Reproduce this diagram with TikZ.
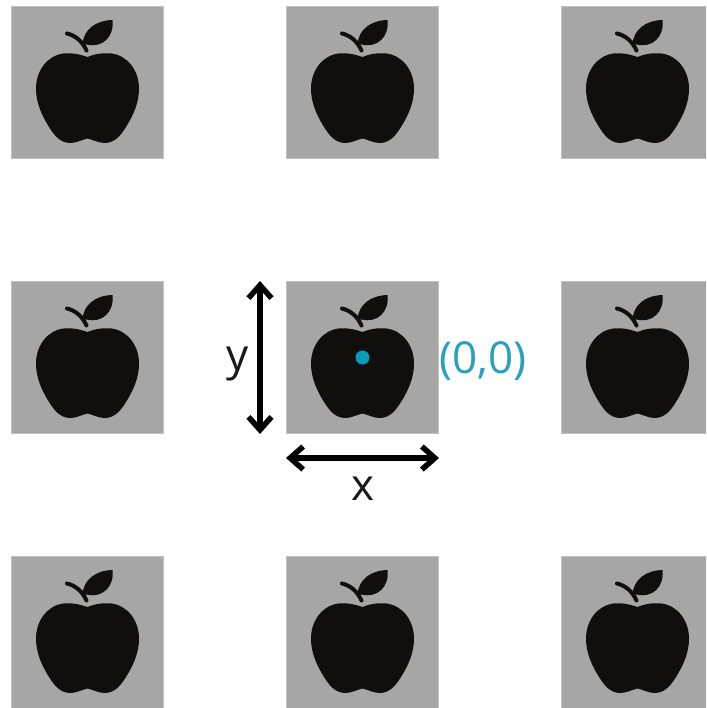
\documentclass[tikz,border=0pt]{standalone}
\usepackage{fontspec}
\setmainfont{Open Sans}
\usetikzlibrary{arrows.meta}
\definecolor{tilegray}{HTML}{A6A6A6}
\definecolor{applek}{HTML}{100F0D}
\definecolor{teal}{HTML}{0A9BBB}
\definecolor{tealtext}{HTML}{2A9FBF}
\definecolor{inkc}{HTML}{1A1A1A}
\tikzset{
  tile/.style={draw=tilegray!70!white,line width=0.8pt,fill=tilegray,minimum size=152.5pt,inner sep=0pt,outer sep=0pt},
  dim/.style={draw=black,line width=5.5pt,{Straight Barb[length=13pt,width=23pt,line width=5.5pt]}-{Straight Barb[length=13pt,width=23pt,line width=5.5pt]}},
  lab/.style={font=\fontsize{44}{48}\selectfont,inner sep=0pt,text=inkc},
  apple/.pic={
    \fill[applek] (0,-25.5)
      .. controls (-6,-27.5) and (-14,-30) .. (-24,-29)
      .. controls (-40,-27) and (-51.5,-12) .. (-51.5,6)
      .. controls (-51.5,20) and (-46,32) .. (-40,42)
      .. controls (-34,52) and (-28,60.5) .. (-17,60.5)
      .. controls (-11,60.5) and (-5,57) .. (0,56)
      .. controls (5,57) and (11,60.5) .. (17,60.5)
      .. controls (28,60.5) and (34,52) .. (40,42)
      .. controls (46,32) and (51.5,20) .. (51.5,6)
      .. controls (51.5,-12) and (40,-27) .. (24,-29)
      .. controls (14,-30) and (6,-28) .. (0,-25.5) -- cycle;
    \fill[applek] (-5,-38)
      .. controls (-4,-53) and (8,-62) .. (25,-62.5)
      .. controls (27,-46) and (15,-34) .. (-1,-38) -- cycle;
    \draw[applek,line width=4pt,line cap=round] (-20.5,-49)
      .. controls (-12,-47) and (-5,-41) .. (-1,-32);
  }
}
\begin{document}
\begin{tikzpicture}[x=1pt,y=-1pt]
\useasboundingbox (0,0) rectangle (706,708);
\clip (0,0) rectangle (706,708);
\fill[white] (0,0) rectangle (706,708);
\foreach \n/\cx/\cy in {a/87.5/82.5,b/362.5/82.5,c/637.5/82.5,d/87.5/357.5,e/362.5/357.5,f/637.5/357.5,g/87.5/632.5,h/362.5/632.5,i/637.5/632.5}{
  \node[tile] (\n) at (\cx,\cy) {};
  \pic at (\cx,\cy) {apple};
}
\node[circle,fill=teal,minimum size=14pt,inner sep=0pt] (origin) at (362.5,357.5) {};
\node[lab,text=tealtext,anchor=west] (zero) at (439,361) {(0,0)};
\coordinate (yt) at (260,281);
\coordinate (yb) at (260,434);
\coordinate (xl) at (286,458);
\coordinate (xr) at (439,458);
\draw[dim] (yt) -- (yb);
\draw[dim] (xl) -- (xr);
\node[lab] (ylab) at (237.5,364) {y};
\node[lab] (xlab) at (363.5,489) {x};
\end{tikzpicture}
\end{document}
